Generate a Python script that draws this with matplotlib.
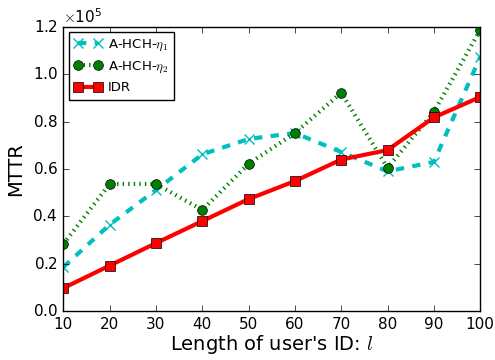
import matplotlib
matplotlib.use("Agg")
import matplotlib.pyplot as plt

plt.style.use("classic")

lengths = [10, 20, 30, 40, 50, 60, 70, 80, 90, 100]
eta1 = [0.186, 0.365, 0.511, 0.662, 0.727, 0.752, 0.672, 0.590, 0.630, 1.073]
eta2 = [0.283, 0.537, 0.537, 0.427, 0.622, 0.752, 0.922, 0.605, 0.841, 1.187]
idr = [0.097, 0.192, 0.287, 0.380, 0.473, 0.549, 0.640, 0.680, 0.818, 0.904]
scale = 1e5

fig = plt.figure(figsize=(4.95, 3.6), dpi=100)
ax = fig.add_axes([0.128, 0.136, 0.842, 0.789])

ax.plot(lengths, [v * scale for v in eta1], color="c", ls="--", lw=3, marker="x",
        ms=7, mew=1, mec="c", label=r"A-HCH-$\eta_1$")
ax.plot(lengths, [v * scale for v in eta2], color="g", ls=":", lw=3, marker="o",
        ms=7, mfc="g", mec="k", label=r"A-HCH-$\eta_2$")
ax.plot(lengths, [v * scale for v in idr], color="r", ls="-", lw=3, marker="s",
        ms=7, mfc="r", mec="k", label="IDR")

ax.set_xlim(10, 100)
ax.set_ylim(0, 1.2e5)
ax.set_xticks(lengths)
ax.ticklabel_format(axis="y", style="sci", scilimits=(0, 0), useMathText=True)
ax.tick_params(labelsize=11)
ax.yaxis.get_offset_text().set_fontsize(11)
ax.set_xlabel(r"Length of user's ID: $l$", fontsize=14, labelpad=1)
ax.set_ylabel("MTTR", fontsize=14)
ax.legend(loc="upper left", fontsize=9.5, numpoints=2, handlelength=2.1,
          handletextpad=0.5, borderaxespad=0.4)

fig.savefig("out.png", dpi=100)
